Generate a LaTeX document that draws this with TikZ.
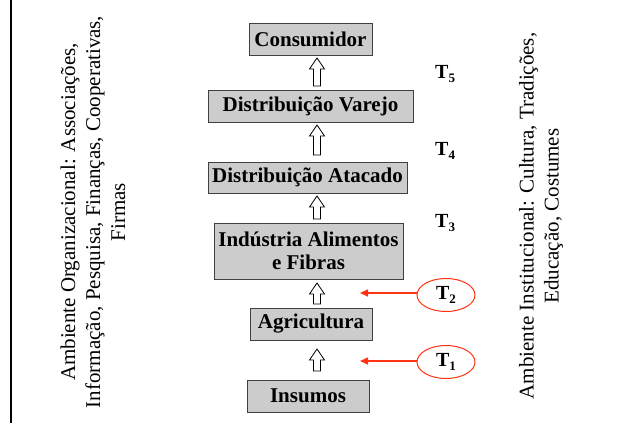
\documentclass[tikz,border=0pt]{standalone}
\usepackage{fontspec}
\setmainfont{Liberation Serif}
\usetikzlibrary{calc,shapes.geometric,arrows.meta}
\definecolor{boxgray}{HTML}{CCCCCC}
\definecolor{boxline}{HTML}{404040}
\definecolor{tred}{HTML}{FF3311}
\tikzset{
  stagebox/.style={draw=boxline, line width=1pt, fill=boxgray, inner sep=0pt,
    font=\bfseries\fontsize{21}{23}\selectfont, align=center},
  harrow/.style={draw=black, fill=white, line width=0.8pt, line join=miter},
  tlabel/.style={font=\bfseries\fontsize{20}{22}\selectfont, inner sep=0pt, anchor=base west},
  tellipse/.style={ellipse, draw=tred, line width=1pt, minimum width=58pt, minimum height=33pt,
    inner sep=0pt, font=\bfseries\fontsize{20}{22}\selectfont},
  redarrow/.style={draw=tred, line width=1.5pt, -{Triangle[length=8pt,width=7pt]}},
  envtext/.style={font=\fontsize{21}{25}\selectfont, align=center, rotate=90, inner sep=0pt},
}
\newcommand\uparr[2]{%
  \draw[harrow] let \p1=(#1),\p2=(#2) in
    (\x1-3.5pt,\y1) -- (\x1-3.5pt,\y2-11pt) -- (\x1-7.5pt,\y2-11pt) -- (\x2,\y2)
    -- (\x1+7.5pt,\y2-11pt) -- (\x1+3.5pt,\y2-11pt) -- (\x1+3.5pt,\y1) -- cycle;}
\newcommand\tsub[1]{T\raisebox{-4pt}{\fontsize{13}{13}\selectfont #1}}
\begin{document}
\begin{tikzpicture}[x=1pt,y=-1pt]
\useasboundingbox (0,0) rectangle (621,423);
% left rule
\coordinate (lt) at (11,0);
\coordinate (lb) at (11,423);
\draw[line width=2pt] (lt) -- (lb);
% boxes
\node[stagebox, minimum width=123pt, minimum height=32pt] (cons) at (310.5,39) {Consumidor};
\node[stagebox, minimum width=205pt, minimum height=32pt] (var) at (310.5,106) {Distribuição Varejo};
\node[stagebox, minimum width=199pt, minimum height=31pt] (ata) at (307.5,177.5) {Distribuição Atacado};
\node[stagebox, minimum width=189pt, minimum height=56pt] (ind) at (308.5,251) {Indústria Alimentos\\e Fibras};
\node[stagebox, minimum width=122pt, minimum height=32pt] (agr) at (311,324) {Agricultura};
\node[stagebox, minimum width=122pt, minimum height=32pt] (ins) at (308,396) {Insumos};
% hollow arrows
\coordinate (a1t) at (317,58);  \coordinate (a1b) at (317,86);
\coordinate (a2t) at (317,125); \coordinate (a2b) at (317,155);
\coordinate (a3t) at (317,196); \coordinate (a3b) at (317,219);
\coordinate (a4t) at (317,283); \coordinate (a4b) at (317,304);
\coordinate (a5t) at (317,349); \coordinate (a5b) at (317,371);
\uparr{a1b}{a1t}
\uparr{a2b}{a2t}
\uparr{a3b}{a3t}
\uparr{a4b}{a4t}
\uparr{a5b}{a5t}
% T labels
\node[tlabel] (t5) at (435,78) {\tsub{5}};
\node[tlabel] (t4) at (435,155) {\tsub{4}};
\node[tlabel] (t3) at (435,227) {\tsub{3}};
% red ellipses
\node[tellipse] (t2) at (446,295) {\tsub{2}};
\node[tellipse] (t1) at (446,362) {\tsub{1}};
\coordinate (r2) at (360,293);
\coordinate (r1) at (360,361);
\draw[redarrow] (t2.west |- r2) -- (r2);
\draw[redarrow] (t1.west |- r1) -- (r1);
% environment texts
\node[envtext] (orgenv) at (93,212) {Ambiente Organizacional: Associações,\\Informação, Pesquisa, Finanças, Cooperativas,\\Firmas};
\node[envtext] (instenv) at (541,216) {Ambiente Institucional: Cultura, Tradições,\\Educação, Costumes};
\end{tikzpicture}
\end{document}
